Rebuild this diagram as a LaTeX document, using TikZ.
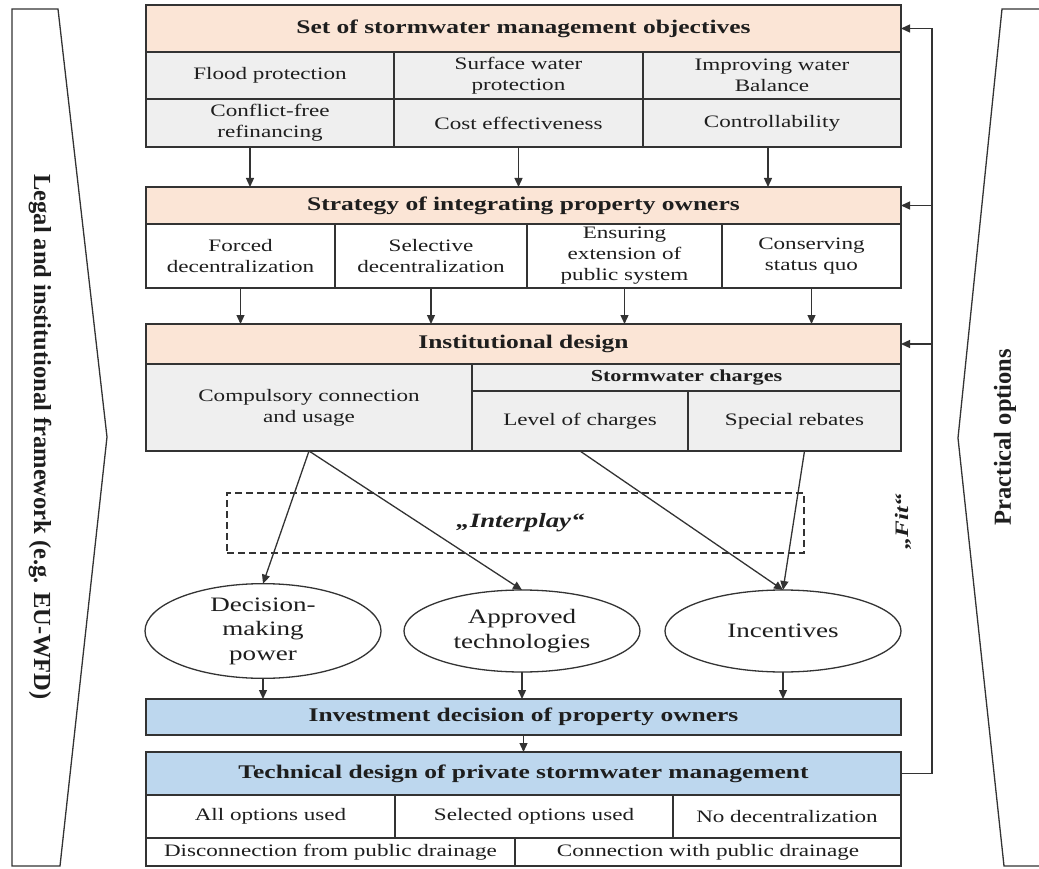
\documentclass[tikz,border=0pt]{standalone}
\usepackage{fontspec}
\setmainfont{Liberation Serif}[FakeStretch=1.32]
\newfontfamily\labelfont{Liberation Serif}
\usetikzlibrary{arrows.meta,shapes.geometric}

\definecolor{edge}{HTML}{333333}
\definecolor{peach}{HTML}{FBE5D6}
\definecolor{lgray}{HTML}{EFEFEF}
\definecolor{lblue}{HTML}{BDD7EE}
\definecolor{ink}{HTML}{1E1E1E}

\tikzset{
  box/.style={draw=edge, line width=1.3pt, inner sep=0pt, outer sep=0pt,
    align=center, text=ink, font=\fontsize{17.5}{21}\selectfont},
  head/.style={box, fill=peach, font=\bfseries\fontsize{19.3}{22}\selectfont},
  bluehead/.style={box, fill=lblue, font=\bfseries\fontsize{19.3}{22}\selectfont},
  graycell/.style={box, fill=lgray},
  whitecell/.style={box, fill=white},
  subhead/.style={box, fill=lgray, font=\bfseries\fontsize{16.8}{19}\selectfont},
  oval/.style={ellipse, draw=edge, line width=1.3pt, fill=white,
    minimum width=236pt, minimum height=82pt, inner sep=0pt, outer sep=0pt,
    align=center, text=ink, font=\fontsize{20.5}{24.5}\selectfont},
  arr/.style={draw=edge, line width=1.3pt, -{Triangle[length=9pt,width=8pt]}},
  frame/.style={draw=edge, line width=1.3pt},
  sidelabel/.style={text=ink, font=\labelfont\bfseries\fontsize{24.5}{28}\selectfont},
  quote/.style={text=ink, font=\bfseries\itshape\fontsize{20.3}{23}\selectfont},
}

% \cell{name}{x1}{y1}{x2}{y2}{style}{text}
\newcommand\cell[7]{\node[#6, minimum width={(#4-#2)*1pt},
  minimum height={(#5-#3)*1pt}] (#1) at ({(#2+#4)/2},{(#3+#5)/2}) {#7};}

\begin{document}
\begin{tikzpicture}[x=1pt,y=-1pt]
\useasboundingbox (0,0) rectangle (1039,869);
\clip (0,0) rectangle (1039,869);

% side frames
\draw[frame] (12,9) -- (58,9) -- (107,437) -- (60,866) -- (12,866) -- cycle;
\draw[frame] (1045,9) -- (1002,9) -- (958,438) -- (1004,866) -- (1045,866);
\node[sidelabel, rotate=-90] (legal) at (40,437)
  {Legal and institutional framework (e.g. EU-WFD)};
\node[sidelabel, rotate=90] (prac) at (1005,437) {Practical options};

% objectives
\cell{h1}{146}{5}{901}{52}{head}{Set of stormwater management objectives}
\cell{b1a}{146}{52}{394}{99}{graycell}{Flood protection}
\cell{b1b}{394}{52}{643}{99}{graycell}{Surface water\\protection}
\cell{b1c}{643}{52}{901}{99}{graycell}{Improving water\\Balance}
\cell{b1d}{146}{99}{394}{147}{graycell}{Conflict-free\\refinancing}
\cell{b1e}{394}{99}{643}{147}{graycell}{Cost effectiveness}
\cell{b1f}{643}{99}{901}{147}{graycell}{Controllability}

% strategy
\cell{h2}{146}{187}{901}{224}{head}{Strategy of integrating property owners}
\cell{s1}{146}{224}{335}{288}{whitecell}{Forced\\decentralization}
\cell{s2}{335}{224}{527}{288}{whitecell}{Selective\\decentralization}
\cell{s3}{527}{224}{722}{288}{whitecell}{Ensuring\\extension of\\public system}
\cell{s4}{722}{224}{901}{288}{whitecell}{Conserving\\status quo}

% institutional design
\cell{h3}{146}{324}{901}{364}{head}{Institutional design}
\cell{cmp}{146}{364}{472}{451}{graycell}{Compulsory connection\\and usage}
\cell{chg}{472}{364}{901}{391}{subhead}{Stormwater charges}
\cell{lvl}{472}{391}{688}{451}{graycell}{Level of charges}
\cell{spr}{688}{391}{901}{451}{graycell}{Special rebates}

% interplay
\cell{play}{227}{493}{804}{553}{box, draw, dashed, dash pattern=on 7pt off 4pt, quote}{\hspace*{10pt}„Interplay“}
\node[quote, rotate=90, font=\bfseries\itshape\fontsize{19}{22}\selectfont] (fit) at (903,522) {„Fit“};

% instruments
\node[oval] (dec) at (263,631) {Decision-\\making\\power};
\node[oval] (app) at (522,631) {Approved\\technologies};
\node[oval] (inc) at (783,631) {Incentives};

% owners
\cell{h4}{146}{699}{901}{735}{bluehead}{Investment decision of property owners}
\cell{h5}{146}{752}{901}{795}{bluehead}{Technical design of private stormwater management}
\cell{t1}{146}{795}{395}{838}{whitecell}{All options used}
\cell{t2}{395}{795}{673}{838}{whitecell}{Selected options used}
\cell{t3}{673}{795}{901}{838}{whitecell}{No decentralization}
\cell{t4}{146}{838}{515}{866}{whitecell}{Disconnection from public drainage}
\cell{t5}{515}{838}{901}{866}{whitecell}{Connection with public drainage}

% downward flow
\draw[arr] ([xshift=-20pt]b1d.south) -- ([xshift=-20pt]b1d.south |- h2.north);
\draw[arr] (b1e.south) -- (b1e.south |- h2.north);
\draw[arr] ([xshift=-4pt]b1f.south) -- ([xshift=-4pt]b1f.south |- h2.north);
\foreach \s in {s1,s2,s3,s4}
  \draw[arr] (\s.south) -- (\s.south |- h3.north);

\draw[arr] (cmp.south) -- (dec.north);
\draw[arr] (cmp.south) -- (app.north);
\draw[arr] (lvl.south) -- (inc.north);
\draw[arr] ([xshift=10pt]spr.south) -- (inc.north);

\foreach \e in {dec,app,inc}
  \draw[arr] (\e.south) -- (\e.south |- h4.north);
\draw[arr] (h4.south) -- (h5.north);

% feedback loop
\coordinate (fb) at (932,0);
\draw[arr] (h5.east) -| (fb |- h1.east) -- (h1.east);
\draw[arr] (fb |- h2.east) -- (h2.east);
\draw[arr] (fb |- h3.east) -- (h3.east);
\end{tikzpicture}
\end{document}
